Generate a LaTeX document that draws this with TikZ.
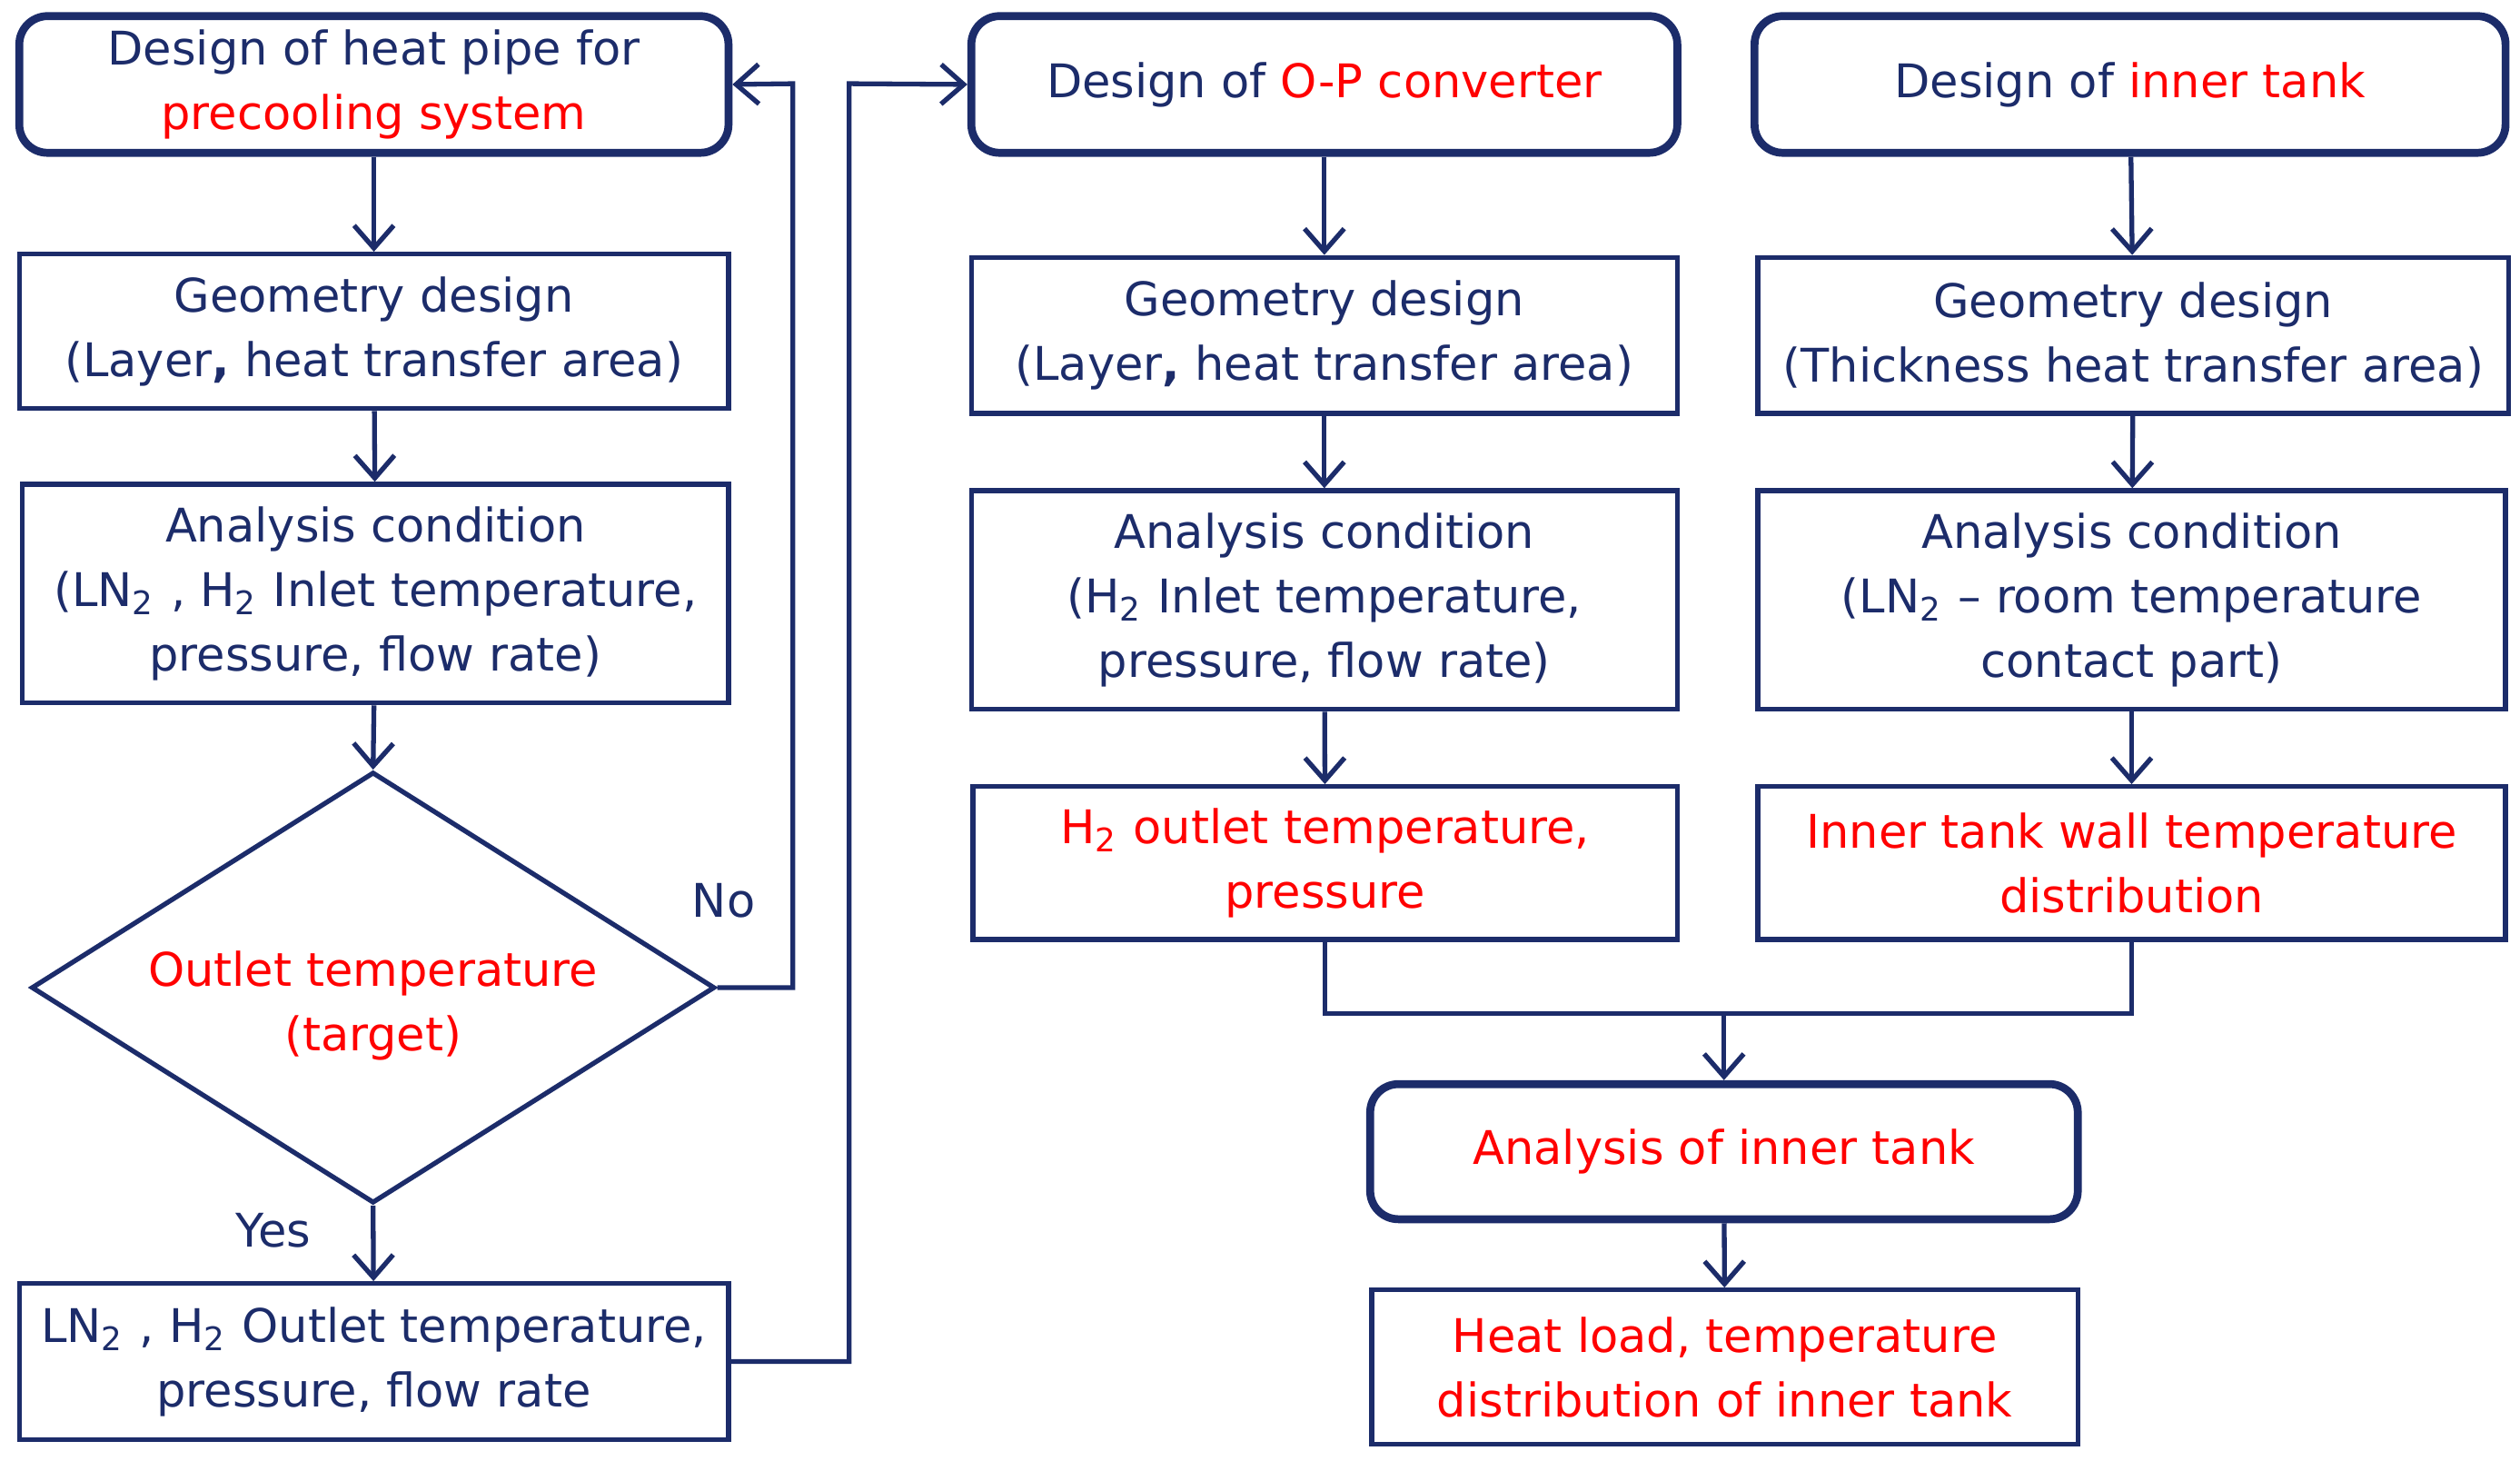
\documentclass[tikz,border=0pt]{standalone}
\usepackage{fontspec}
\setmainfont{DejaVu Sans}
\usetikzlibrary{shapes.geometric,arrows.meta}
\definecolor{navy}{HTML}{1C2C6A}
\definecolor{rd}{HTML}{FF0000}
\begin{document}
\begin{tikzpicture}[x=0.01cm,y=-0.01cm,
  every node/.style={font=\fontsize{8.2}{11.4}\selectfont,align=center,text=navy},
  box/.style={draw=navy,line width=0.85pt,inner sep=0pt},
  rbox/.style={box,line width=1.4pt,rounded corners=5pt},
  ln/.style={draw=navy,line width=0.85pt},
  ar/.style={ln,-{Straight Barb[length=4pt,width=7pt]}}]
\useasboundingbox (0,0) rectangle (1567,908);
\newcommand\bx[6]{\node[#1,minimum width=#4*0.01cm-#3*0.01cm,minimum height=#6*0.01cm-#5*0.01cm] (#2) at ({(#3+#4)/2},{(#5+#6)/2})}
\bx{rbox}{a1}{12}{453}{10}{95} {Design of heat pipe for\\\textcolor{rd}{precooling system}};
\bx{box}{a2}{12}{453}{158}{254} {Geometry design\\(Layer\textbf{,} heat transfer area)};
\bx{box}{a3}{14}{453}{301}{437} {Analysis condition\\(LN\textsubscript{2} , H\textsubscript{2} Inlet temperature,\\pressure, flow rate)};
\node[draw=navy,line width=0.85pt,diamond,minimum width=425*0.01cm,minimum height=268*0.01cm,aspect=1.6,inner sep=0pt] (dm) at (232,614) {};
\node[text=rd] at (232,625) {Outlet temperature\\(target)};
\bx{box}{a5}{12}{453}{798}{895} {LN\textsubscript{2} , H\textsubscript{2} Outlet temperature,\\pressure, flow rate};
\bx{rbox}{b1}{604}{1043}{10}{95} {Design of \textcolor{rd}{O-P converter}};
\bx{box}{b2}{604}{1043}{160}{257} {Geometry design\\(Layer\textbf{,} heat transfer area)};
\bx{box}{b3}{604}{1043}{305}{441} {Analysis condition\\(H\textsubscript{2} Inlet temperature,\\pressure, flow rate)};
\bx{box}{b4}{605}{1043}{489}{584} {\textcolor{rd}{H\textsubscript{2} outlet temperature,}\\\textcolor{rd}{pressure}};
\bx{rbox}{c1}{1091}{1558}{10}{95} {Design of \textcolor{rd}{inner tank}};
\bx{box}{c2}{1093}{1560}{160}{257} {Geometry design\\(Thickness heat transfer area)};
\bx{box}{c3}{1093}{1558}{305}{441} {Analysis condition\\(LN\textsubscript{2} -- room temperature\\contact part)};
\bx{box}{c4}{1093}{1558}{489}{584} {\textcolor{rd}{Inner tank wall temperature}\\\textcolor{rd}{distribution}};
\bx{rbox}{d1}{852}{1292}{674}{758} {\textcolor{rd}{Analysis of inner tank}};
\bx{box}{d2}{853}{1292}{802}{898} {\textcolor{rd}{Heat load, temperature}\\\textcolor{rd}{distribution of inner tank}};
\draw[ar] (a1) -- (a2); \draw[ar] (a2) -- (a3); \draw[ar] (a3) -- (dm.north);
\draw[ar] (dm.south) -- (a5);
\draw[ar] (dm.east) -| (493,52) -- (a1.east);
\draw[ar] (a5.east) -| (528,52) -- (b1.west);
\draw[ar] (b1) -- (b2); \draw[ar] (b2) -- (b3); \draw[ar] (b3) -- (b4);
\draw[ar] (c1) -- (c2); \draw[ar] (c2) -- (c3); \draw[ar] (c3) -- (c4);
\coordinate (m) at (1072,630);
\draw[ln] (b4.south) |- (m) -| (c4.south);
\draw[ar] (m) -- (d1);
\draw[ar] (d1) -- (d2);
\node at (450,560) {No};
\node at (170,765) {Yes};
\end{tikzpicture}
\end{document}
